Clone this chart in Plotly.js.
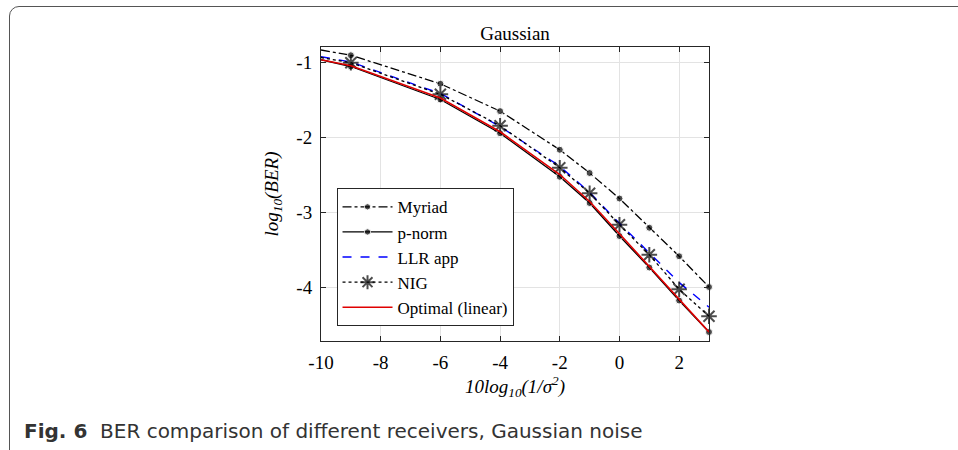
<!DOCTYPE html>
<html>
<head>
<meta charset="utf-8">
<script src="https://cdn.plot.ly/plotly-3.0.1.min.js"></script>
<style>
html,body{margin:0;padding:0;background:#fff;}
#wrap{position:relative;width:958px;height:450px;overflow:hidden;}
#frame{position:absolute;left:9px;top:6px;width:980px;height:480px;border:1.3px solid #555;border-radius:10px;box-sizing:border-box;}
#chart{position:absolute;left:0;top:0;width:958px;height:450px;}
</style>
</head>
<body>
<div id="wrap"><div id="frame"></div><div id="chart"></div></div>
<script>
const snr = [-10, -9, -6, -4, -2, -1, 0, 1, 2, 3];
const myriad = [-0.83, -0.90, -1.28, -1.645, -2.16, -2.47, -2.81, -3.20, -3.58, -3.99];
const pnorm = [-0.96, -1.05, -1.49, -1.94, -2.52, -2.87, -3.31, -3.73, -4.17, -4.59];
const llrApp = [-0.92, -0.99, -1.41, -1.85, -2.38, -2.73, -3.14, -3.53, -3.93, -4.26];
const nig = [-0.93, -1.00, -1.42, -1.84, -2.40, -2.74, -3.16, -3.56, -4.02, -4.38];
const optimal = [-0.96, -1.04, -1.47, -1.92, -2.49, -2.85, -3.28, -3.72, -4.16, -4.59];
const xTicks = [-10, -8, -6, -4, -2, 0, 2];
const yTicks = [-1, -2, -3, -4];

const serif = 'Liberation Serif, Times New Roman, serif';
const msize = snr.map((v, i) => i === 0 ? 0 : 7);
const ssize = snr.map((v, i) => i === 0 ? 0 : 13);

const traces = [
  {x: snr, y: myriad, name: 'Myriad', mode: 'lines+markers', cliponaxis: false,
   line: {color: '#000', width: 1.3, dash: 'dashdot'}, marker: {symbol: 'circle', size: msize, color: '#000'}},
  {x: snr, y: pnorm, name: 'p-norm', mode: 'lines+markers', cliponaxis: false,
   line: {color: '#000', width: 1.3}, marker: {symbol: 'circle', size: msize, color: '#000'}},
  {x: snr, y: llrApp, name: 'LLR app', mode: 'lines', cliponaxis: false,
   line: {color: '#0000ff', width: 1.4, dash: 'dash'}},
  {x: snr, y: nig, name: 'NIG', mode: 'lines+markers', cliponaxis: false,
   line: {color: '#000', width: 1.3, dash: 'dot'}, marker: {symbol: 'asterisk-open', size: ssize, color: '#000', line: {color: '#000', width: 2}}},
  {x: snr, y: optimal, name: 'Optimal (linear)', mode: 'lines', cliponaxis: false,
   line: {color: '#e00000', width: 1.6}}
];

const axisCommon = {
  showline: true, linecolor: '#262626', linewidth: 1, mirror: 'ticks',
  ticks: 'inside', ticklen: 5, tickcolor: '#262626',
  showgrid: true, gridcolor: '#e3e3e3', gridwidth: 1, zeroline: false,
  tickfont: {family: serif, size: 19, color: '#000'}
};

const layout = {
  width: 958, height: 450,
  margin: {l: 321, r: 249, t: 47, b: 109},
  paper_bgcolor: 'rgba(0,0,0,0)', plot_bgcolor: '#fff',
  showlegend: true,
  title: {text: 'Gaussian', font: {family: serif, size: 19, color: '#000'}, x: 0.5, xref: 'paper', xanchor: 'center', y: 1, yref: 'paper', yanchor: 'bottom', pad: {b: 7}},
  xaxis: Object.assign({}, axisCommon, {
    range: [-10, 3], tickvals: xTicks, ticktext: xTicks.map(String),
    ticklabelstandoff: 4,
    title: {text: '<i>10log<sub>10</sub>(1/σ<sup>2</sup>)</i>', font: {family: serif, size: 19, color: '#000'}, standoff: 4}
  }),
  yaxis: Object.assign({}, axisCommon, {
    range: [-4.71, -0.79], tickvals: yTicks, ticktext: yTicks.map(String),
    ticklabelstandoff: 4,
    title: {text: '<i>log<sub>10</sub>(BER)</i>', font: {family: serif, size: 19, color: '#000'}, standoff: 12}
  }),
  legend: {
    x: 0.04, y: 0.05, xanchor: 'left', yanchor: 'bottom',
    bgcolor: '#fff', bordercolor: '#262626', borderwidth: 1,
    font: {family: serif, size: 17, color: '#000'},
    tracegroupgap: 0, itemwidth: 50
  },
  annotations: [
    {xref: 'paper', yref: 'paper', x: -0.77, y: -0.26, xanchor: 'left', yanchor: 'top', showarrow: false, align: 'left',
     text: '<b>Fig. 6</b>  BER comparison of different receivers, Gaussian noise',
     font: {family: 'DejaVu Sans, sans-serif', size: 20, color: '#333'}}
  ]
};

Plotly.newPlot('chart', traces, layout, {displayModeBar: false, staticPlot: true});
</script>
</body>
</html>
